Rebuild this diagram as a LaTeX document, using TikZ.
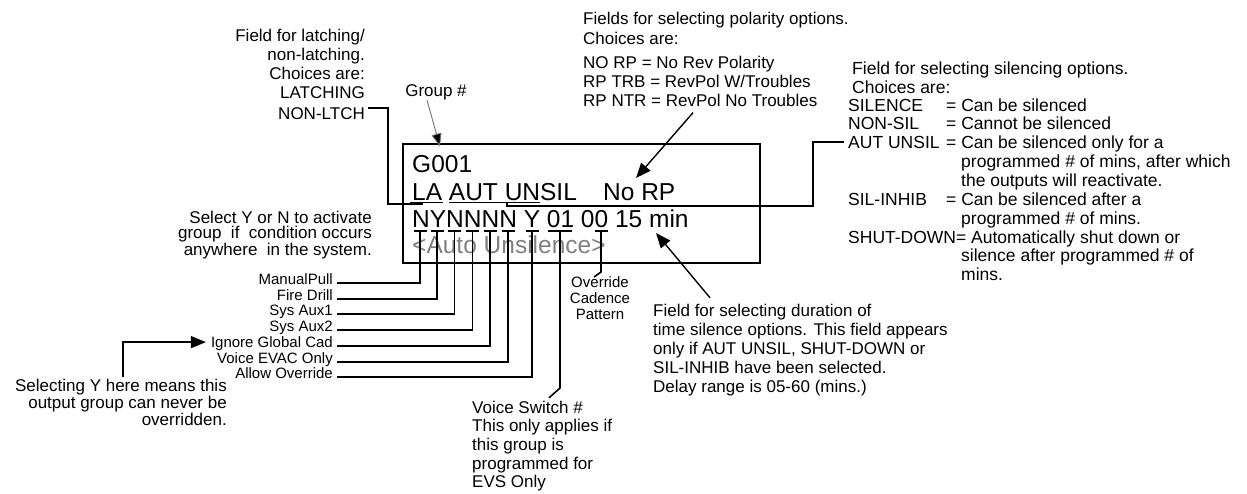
\documentclass[tikz,border=0pt]{standalone}
\usepackage{fontspec}
\setmainfont{Liberation Sans}
\usetikzlibrary{arrows.meta,calc}
\definecolor{dimtxt}{gray}{0.5}
\definecolor{thinline}{gray}{0.45}
\begin{document}
\begin{tikzpicture}[x=1pt,y=-1pt,
  txt/.style={inner sep=0pt, font=\fontsize{17}{19}\selectfont},
  rtxt/.style={inner sep=0pt, font=\fontsize{17.5}{18.7}\selectfont},
  tighttxt/.style={inner sep=0pt, font=\fontsize{17}{15}\selectfont},
  smalltxt/.style={inner sep=0pt, font=\fontsize{15}{16}\selectfont},
  lcdtxt/.style={inner sep=0pt, anchor=base west, font=\fontsize{24.5}{27}\selectfont},
  lcdframe/.style={draw, line width=2.6pt, inner sep=0pt, outer sep=0pt, minimum width=357pt, minimum height=119pt},
  wire/.style={line width=1.6pt},
  arr/.style={line width=1.4pt, -{Triangle[length=15pt,width=12pt]}},
  thinarr/.style={draw=thinline, line width=0.9pt, -{Triangle[length=13pt,width=10pt,fill=black]}}
]
\fill[white] (0,0) rectangle (1247,493);
\useasboundingbox (0,0) rectangle (1247,493);

% ---------- LCD box ----------
\node[lcdframe] (lcd) at (581.5,203.5) {};
\node[lcdtxt] (g001) at (412,172) {G001};
\node[lcdtxt] (line2) at (412,200) {LA AUT UNSIL};
\node[lcdtxt] (norp) at (603,200) {No RP};
\node[lcdtxt] (line3) at (412,227) {NYNNNN Y 01 00 15 min};
\node[lcdtxt, text=dimtxt] (autotxt) at (412,253) {<Auto Unsilence>};

% underlines of line 2
\draw[wire] (410,202.5) -- (443,202.5);
\draw[wire] (449,202.5) -- (540,202.5);
\coordinate (laU) at (422,202.5);
\coordinate (unU) at (507,202.5);

% ticks under line 3
\coordinate (t1) at (420,231);
\coordinate (t2) at (437,231);
\coordinate (t3) at (454.5,231);
\coordinate (t4) at (472.5,231);
\coordinate (t5) at (490,231);
\coordinate (t6) at (508,231);
\coordinate (t7) at (532,231);
\coordinate (t8) at (560,231);
\coordinate (t9) at (601,231);
\foreach \c in {t1,t2,t3,t4,t5,t6,t7,t9}{
  \draw[wire] ($(\c)+(-6.5,0)$) -- ($(\c)+(6.5,0)$);
}
\draw[wire] ($(t8)+(-12,0)$) -- ($(t8)+(12,0)$);

% ---------- latching label ----------
\node[txt, align=right, anchor=north east] (latch) at (365,28.8)
  {Field for latching/\\non-latching.\\Choices are:\\LATCHING};
\node[txt, anchor=base east] (nonltch) at (365,119) {NON-LTCH};
\draw[wire] ($(nonltch.east)+(3,-5)$) -| (388,204) -| (laU);

% ---------- group # ----------
\node[txt, anchor=base] (grp) at (436,96) {Group \#};
\coordinate (grpTip) at (440,146.5);
\draw[thinarr] ($(grp.south)+(-9,0.5)$) -- (grpTip);

% ---------- polarity ----------
\node[txt, align=left, anchor=north west, font=\fontsize{17}{20}\selectfont] (pol1) at (583,11.8)
  {Fields for selecting polarity options.\\Choices are:};
\node[txt, align=left, anchor=north west] (pol2) at (583,55.8)
  {NO RP = No Rev Polarity\\RP TRB = RevPol W/Troubles\\RP NTR = RevPol No Troubles};
\coordinate (polTip) at (636,178);
\draw[arr] ($(pol2.south west)+(110,6)$) -- (polTip);

% ---------- silencing ----------
\node[rtxt, align=left, anchor=north west] (silhead) at (852,61.8)
  {Field for selecting silencing options.\\Choices are:};
\node[rtxt, anchor=base west] (sSil) at (848,111.3) {SILENCE};
\node[rtxt, anchor=base west] (sSilD) at (946,111.3) {= Can be silenced};
\node[rtxt, anchor=base west] (sNon) at (848,129.6) {NON-SIL};
\node[rtxt, anchor=base west] (sNonD) at (946,129.6) {= Cannot be silenced};
\node[rtxt, anchor=base west] (sAut) at (848,148.3) {AUT UNSIL};
\node[rtxt, anchor=base west] (sAutD) at (946,148.3) {= Can be silenced only for a};
\node[rtxt, anchor=base west] (sAut2) at (961,167.3) {programmed \# of mins, after which};
\node[rtxt, anchor=base west] (sAut3) at (961,186.3) {the outputs will reactivate.};
\node[rtxt, anchor=base west] (sInh) at (848,205.3) {SIL-INHIB};
\node[rtxt, anchor=base west] (sInhD) at (946,205.3) {= Can be silenced after a};
\node[rtxt, anchor=base west] (sInh2) at (961,224.3) {programmed \# of mins.};
\node[rtxt, anchor=base west] (sShut) at (848,243.3) {SHUT-DOWN= Automatically shut down or};
\node[rtxt, anchor=base west] (sShut2) at (961,261.6) {silence after programmed \# of};
\node[rtxt, anchor=base west] (sShut3) at (961,280.3) {mins.};
\draw[wire] (unU) -- (507,206) -- (813,206) |- ($(sAut.west)+(-4,0)$);

% ---------- select Y or N ----------
\node[tighttxt, align=right, anchor=north east] (selyn) at (372,210.8)
  {Select Y or N to activate\\group\ \ if\ \ condition occurs\\anywhere\ \ in the system.};

% ---------- flag labels ----------
\node[smalltxt, anchor=base east] (mp) at (333,284) {ManualPull};
\node[smalltxt, anchor=base east] (fd) at (333,300) {Fire Drill};
\node[smalltxt, anchor=base east] (sa1) at (333,315) {Sys Aux1};
\node[smalltxt, anchor=base east] (sa2) at (333,331) {Sys Aux2};
\node[smalltxt, anchor=base east] (igc) at (333,347) {Ignore Global Cad};
\node[smalltxt, anchor=base east] (vev) at (333,363) {Voice EVAC Only};
\node[smalltxt, anchor=base east] (ao) at (333,378) {Allow Override};
\draw[wire] ($(mp.base east)+(4,-1)$) -| (t1);
\draw[wire] ($(fd.base east)+(4,-1)$) -| (t2);
\draw[wire] ($(sa1.base east)+(4,-1)$) -| (t3);
\draw[wire] ($(sa2.base east)+(4,-1)$) -| (t4);
\draw[wire] ($(igc.base east)+(4,-1)$) -| (t5);
\draw[wire] ($(vev.base east)+(4,-1)$) -| (t6);
\draw[wire] ($(ao.base east)+(4,-1)$) -| (t7);

% ---------- selecting Y ----------
\node[tighttxt, align=right, anchor=north east] (sely) at (227,378.8)
  {Selecting Y here means this\\output group can never be\\overridden.};
\draw[arr] ($(sely.north east)+(-104,-2)$) |- ($(igc.west)+(-5,-1)$);

% ---------- voice switch ----------
\node[txt, align=left, anchor=north west, font=\fontsize{17}{18.6}\selectfont] (voice) at (472,400.8)
  {Voice Switch \#\\This only applies if\\this group is\\programmed for\\EVS Only};
\draw[wire] (t8) -- (560,388) -- ($(voice.north west)+(77,-3)$);

% ---------- override cadence ----------
\node[smalltxt, align=center, anchor=north] (ovr) at (600,276.5)
  {Override\\Cadence\\Pattern};
\draw[wire] (t9) -- (601,272) -- ($(ovr.north)+(-6,0.5)$);

% ---------- duration ----------
\node[txt, align=left, anchor=north west] (dur) at (653,303.8)
  {Field for selecting duration of\\time silence options. This field appears\\only if AUT UNSIL, SHUT-DOWN or\\SIL-INHIB have been selected.\\Delay range is 05-60 (mins.)};
\coordinate (durTip) at (656,233);
\draw[arr] ($(dur.north west)+(57,-6)$) -- (durTip);
\end{tikzpicture}
\end{document}
